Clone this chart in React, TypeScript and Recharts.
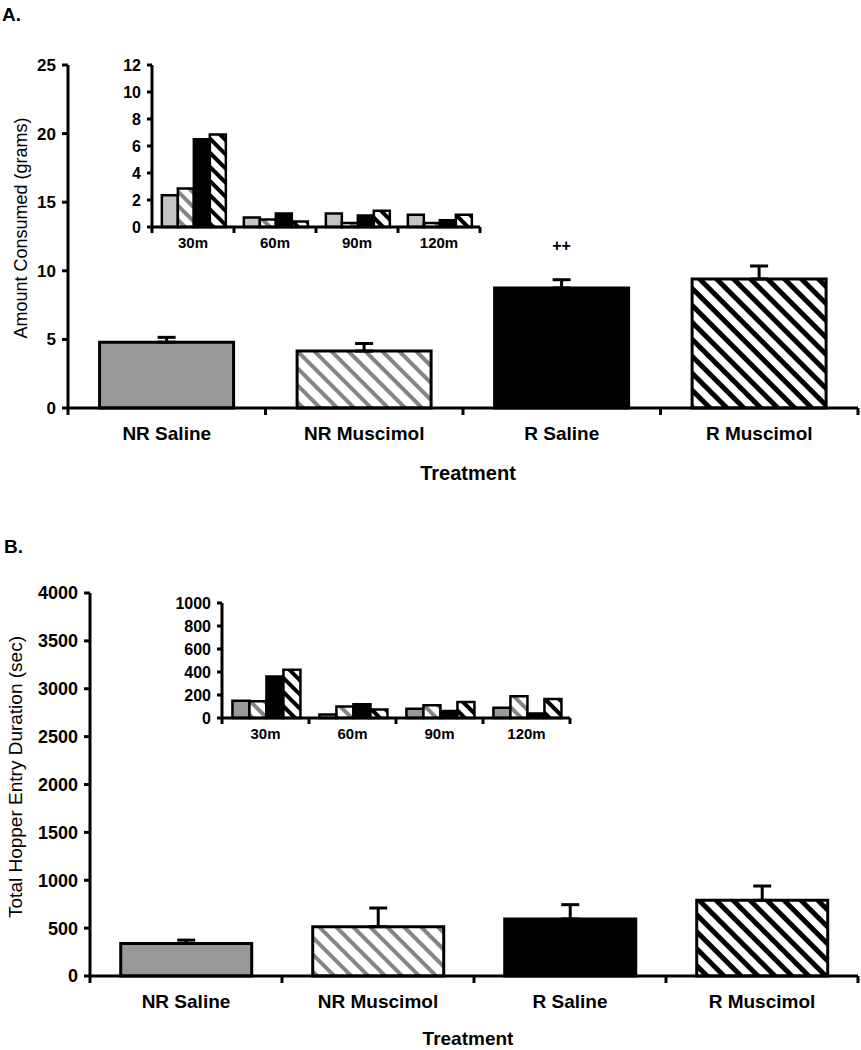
import React from 'react';
import { BarChart, Bar, XAxis, YAxis, ErrorBar, LabelList, Cell } from 'recharts';

// ---------- data ----------
const treatments = ['NR Saline', 'NR Muscimol', 'R Saline', 'R Muscimol'];
const consumedMeans = [4.8, 4.15, 8.75, 9.4];
const consumedSem = [0.35, 0.55, 0.6, 0.95];
const consumedMarks = ['', '', '++', ''];
const durationMeans = [340, 515, 595, 790];
const durationSem = [35, 195, 150, 150];

const timeBins = ['30m', '60m', '90m', '120m'];
const consumedNRSaline = [2.35, 0.7, 1.0, 0.9];
const consumedNRMuscimol = [2.85, 0.55, 0.3, 0.3];
const consumedRSaline = [6.5, 1.0, 0.85, 0.5];
const consumedRMuscimol = [6.85, 0.4, 1.2, 0.9];
const durationNRSaline = [150, 30, 80, 90];
const durationNRMuscimol = [145, 100, 110, 190];
const durationRSaline = [360, 120, 60, 40];
const durationRMuscimol = [420, 75, 140, 165];

const consumedTicks = [0, 5, 10, 15, 20, 25];
const durationTicks = [0, 500, 1000, 1500, 2000, 2500, 3000, 3500, 4000];
const insetConsumedTicks = [0, 2, 4, 6, 8, 10, 12];
const insetDurationTicks = [0, 200, 400, 600, 800, 1000];

// ---------- derived tables ----------
const consumedData = treatments.map((t, i) => ({
  name: t,
  value: consumedMeans[i],
  err: [0, consumedSem[i]],
  mark: consumedMarks[i],
}));
const durationData = treatments.map((t, i) => ({
  name: t,
  value: durationMeans[i],
  err: [0, durationSem[i]],
}));
const consumedTimeData = timeBins.map((b, i) => ({
  bin: b,
  nrs: consumedNRSaline[i],
  nrm: consumedNRMuscimol[i],
  rs: consumedRSaline[i],
  rm: consumedRMuscimol[i],
}));
const durationTimeData = timeBins.map((b, i) => ({
  bin: b,
  nrs: durationNRSaline[i],
  nrm: durationNRMuscimol[i],
  rs: durationRSaline[i],
  rm: durationRMuscimol[i],
}));

// ---------- styles ----------
const FONT = "'Liberation Sans', Arial, Helvetica, sans-serif";
const mainFills = ['#999999', 'url(#stripeGrayMain)', '#000000', 'url(#stripeBlackMain)'];

function makeBoundaryTick(labelDy: number, fontSize: number, tickLen: number, sw: number) {
  return (props: any) => {
    const { x, y, payload, index } = props;
    const half = payload && typeof payload.offset === 'number' ? payload.offset : 0;
    return (
      <g>
        {index === 0 && half > 0 ? (
          <line x1={x - half} x2={x - half} y1={y} y2={y + tickLen} stroke="#000" strokeWidth={sw} />
        ) : null}
        {half > 0 ? (
          <line x1={x + half} x2={x + half} y1={y} y2={y + tickLen} stroke="#000" strokeWidth={sw} />
        ) : null}
        <text
          x={x}
          y={y + labelDy}
          textAnchor="middle"
          fontSize={fontSize}
          fontWeight="bold"
          fill="#000"
          fontFamily={FONT}
        >
          {payload.value}
        </text>
      </g>
    );
  };
}

const mainTick = makeBoundaryTick(32, 19, 7, 3);
const insetTick = makeBoundaryTick(21, 15, 6, 3);

const axisLine = { stroke: '#000', strokeWidth: 3 };
const tickLine = { stroke: '#000', strokeWidth: 3 };

function MainChart(props: { data: any[]; ticks: number[]; domainMax: number; yWidth: number; height: number; marginTop: number; marginBottom: number; tickFont: number; marks?: boolean }) {
  const { data, ticks, domainMax, yWidth, height, marginTop, marginBottom, tickFont, marks } = props;
  return (
    <BarChart
      width={861}
      height={height}
      data={data}
      margin={{ top: marginTop, right: 3, left: 8, bottom: marginBottom }}
      barCategoryGap="16%"
    >
      <XAxis
        dataKey="name"
        axisLine={axisLine}
        tickLine={false}
        tickSize={0}
        tickMargin={0}
        interval={0}
        height={60}
        tick={mainTick}
      />
      <YAxis
        type="number"
        domain={[0, domainMax]}
        ticks={ticks}
        interval={0}
        width={yWidth}
        axisLine={axisLine}
        tickLine={tickLine}
        tickSize={6}
        tickMargin={6}
        tick={{ fill: '#000', fontSize: tickFont, fontWeight: 'bold', fontFamily: FONT }}
      />
      <Bar dataKey="value" isAnimationActive={false} stroke="#000" strokeWidth={3}>
        {data.map((d, i) => (
          <Cell key={d.name} fill={mainFills[i]} />
        ))}
        <ErrorBar dataKey="err" direction="y" width={9} stroke="#000" strokeWidth={3} />
        {marks ? (
          <LabelList
            dataKey="mark"
            position="top"
            offset={37}
            style={{ fill: '#000', fontSize: 16, fontWeight: 'bold', fontFamily: FONT }}
          />
        ) : null}
      </Bar>
    </BarChart>
  );
}

function InsetChart(props: { data: any[]; ticks: number[]; domainMax: number; width: number; height: number; marginTop: number; marginBottom: number; firstFill: string; yWidth: number }) {
  const { data, ticks, domainMax, width, height, marginTop, marginBottom, firstFill, yWidth } = props;
  return (
    <BarChart
      width={width}
      height={height}
      data={data}
      margin={{ top: marginTop, right: 10, left: 2, bottom: marginBottom }}
      barGap={0}
      barCategoryGap="12%"
    >
      <XAxis
        dataKey="bin"
        axisLine={axisLine}
        tickLine={false}
        tickSize={0}
        tickMargin={0}
        interval={0}
        height={30}
        tick={insetTick}
      />
      <YAxis
        type="number"
        domain={[0, domainMax]}
        ticks={ticks}
        interval={0}
        width={yWidth}
        axisLine={axisLine}
        tickLine={tickLine}
        tickSize={5}
        tickMargin={6}
        tick={{ fill: '#000', fontSize: 16, fontWeight: 'bold', fontFamily: FONT }}
      />
      <Bar dataKey="nrs" isAnimationActive={false} fill={firstFill} stroke="#000" strokeWidth={2.5} />
      <Bar dataKey="nrm" isAnimationActive={false} fill="url(#stripeGrayInset)" stroke="#000" strokeWidth={2.5} />
      <Bar dataKey="rs" isAnimationActive={false} fill="#000" stroke="#000" strokeWidth={2.5} />
      <Bar dataKey="rm" isAnimationActive={false} fill="url(#stripeBlackInset)" stroke="#000" strokeWidth={2.5} />
    </BarChart>
  );
}

export default function App() {
  const abs = (left: number, top: number): React.CSSProperties => ({ position: 'absolute', left, top });
  return (
    <div style={{ position: 'absolute', left: 0, top: 0, width: 861, height: 1050, background: '#fff', fontFamily: FONT }}>
      <svg width={0} height={0} style={{ position: 'absolute' }}>
        <defs>
          <pattern id="stripeGrayMain" patternUnits="userSpaceOnUse" width={12} height={12} patternTransform="rotate(45)">
            <rect width={12} height={12} fill="#fff" />
            <rect width={12} height={4} fill="#858585" />
          </pattern>
          <pattern id="stripeBlackMain" patternUnits="userSpaceOnUse" width={12} height={12} patternTransform="rotate(45)">
            <rect width={12} height={12} fill="#fff" />
            <rect width={12} height={5} fill="#000" />
          </pattern>
          <pattern id="stripeGrayInset" patternUnits="userSpaceOnUse" width={10} height={10} patternTransform="rotate(45)">
            <rect width={10} height={10} fill="#fff" />
            <rect width={10} height={4} fill="#858585" />
          </pattern>
          <pattern id="stripeBlackInset" patternUnits="userSpaceOnUse" width={10} height={10} patternTransform="rotate(45)">
            <rect width={10} height={10} fill="#fff" />
            <rect width={10} height={4} fill="#000" />
          </pattern>
        </defs>
      </svg>

      {/* Panel A main */}
      <div style={abs(0, 0)}>
        <MainChart
          data={consumedData}
          ticks={consumedTicks}
          domainMax={25}
          yWidth={60}
          height={490}
          marginTop={65}
          marginBottom={22}
          tickFont={17}
          marks
        />
      </div>
      {/* Panel A inset */}
      <div style={abs(100, 40)}>
        <InsetChart
          data={consumedTimeData}
          ticks={insetConsumedTicks}
          domainMax={12}
          width={390}
          height={230}
          marginTop={25}
          marginBottom={13}
          firstFill="#c4c4c4"
          yWidth={50}
        />
      </div>

      {/* Panel B main */}
      <div style={abs(0, 520)}>
        <MainChart
          data={durationData}
          ticks={durationTicks}
          domainMax={4000}
          yWidth={82}
          height={530}
          marginTop={73}
          marginBottom={14}
          tickFont={18}
        />
      </div>
      {/* Panel B inset */}
      <div style={abs(160, 580)}>
        <InsetChart
          data={durationTimeData}
          ticks={insetDurationTicks}
          domainMax={1000}
          width={420}
          height={180}
          marginTop={23}
          marginBottom={12}
          firstFill="#9a9a9a"
          yWidth={60}
        />
      </div>

      {/* Titles and axis labels */}
      <svg width={861} height={1050} style={{ position: 'absolute', left: 0, top: 0, pointerEvents: 'none' }}>
        <text x={2} y={21} fontSize={19} fontWeight="bold" fontFamily={FONT} fill="#000">A.</text>
        <text
          x={21}
          y={228}
          transform="rotate(-90 21 228)"
          textAnchor="middle"
          dominantBaseline="central"
          fontSize={18}
          fontFamily={FONT}
          fill="#000"
        >
          Amount Consumed (grams)
        </text>
        <text x={468} y={480} textAnchor="middle" fontSize={20} fontWeight="bold" fontFamily={FONT} fill="#000">Treatment</text>

        <text x={4} y={553} fontSize={19} fontWeight="bold" fontFamily={FONT} fill="#000">B.</text>
        <text
          x={15}
          y={777}
          transform="rotate(-90 15 777)"
          textAnchor="middle"
          dominantBaseline="central"
          fontSize={19}
          fontFamily={FONT}
          fill="#000"
        >
          Total Hopper Entry Duration (sec)
        </text>
        <text x={468} y={1045} textAnchor="middle" fontSize={19} fontWeight="bold" fontFamily={FONT} fill="#000">Treatment</text>
      </svg>
    </div>
  );
}
